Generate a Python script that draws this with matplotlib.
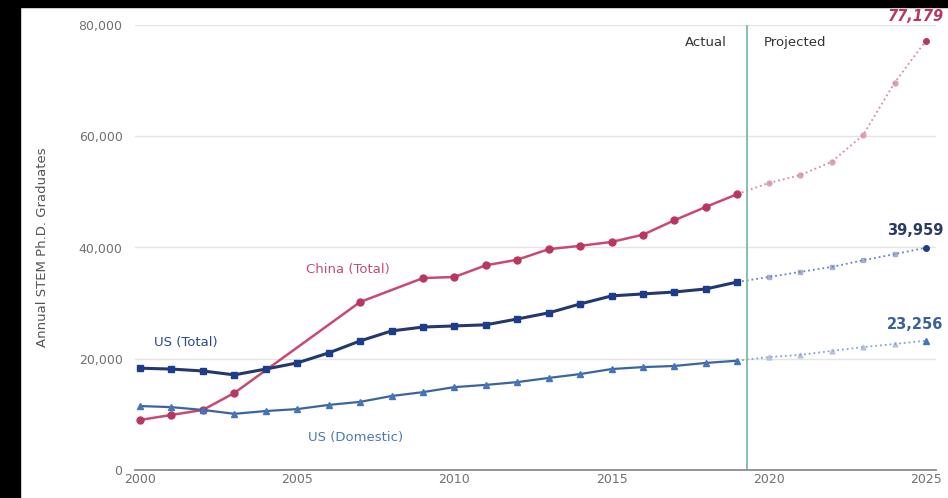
import matplotlib.pyplot as plt
from matplotlib.patches import Rectangle
from matplotlib.ticker import FuncFormatter

# actual values
us_years = list(range(2000, 2020))
us_total = [18300, 18150, 17800, 17100, 18150, 19250, 21050, 23200, 25000, 25700,
            25900, 26100, 27150, 28250, 29850, 31300, 31650, 32000, 32550, 33800]
us_domestic = [11500, 11300, 10800, 10100, 10600, 10950, 11700, 12250, 13300, 14000,
               14900, 15300, 15800, 16550, 17250, 18150, 18500, 18700, 19250, 19650]
china_years = [2000, 2001, 2002, 2003, 2007, 2009, 2010, 2011, 2012, 2013,
               2014, 2015, 2016, 2017, 2018, 2019]
china_total = [9000, 9900, 10800, 13850, 30200, 34500, 34700, 36800, 37800, 39700,
               40300, 41000, 42300, 44900, 47300, 49600]

# projections
proj_years = [2019, 2020, 2021, 2022, 2023, 2024, 2025]
china_proj = [49600, 51600, 53000, 55400, 60200, 69600, 77179]
us_total_proj = [33800, 34700, 35600, 36500, 37700, 38800, 39959]
us_dom_proj = [19650, 20300, 20700, 21400, 22100, 22650, 23256]

c_china = "#b9375f"
c_total = "#1d3d8c"
c_dom = "#4574b8"

fig = plt.figure(figsize=(9.48, 4.98), dpi=100)
fig.patches.append(Rectangle((0, 0), 20 / 948, 1, transform=fig.transFigure,
                             color="black", zorder=-1))
fig.patches.append(Rectangle((0, 1 - 7 / 498), 1, 7 / 498, transform=fig.transFigure,
                             color="black", zorder=-1))
ax = fig.add_axes([135 / 948, 28 / 498, 801 / 948, 445 / 498])

# actual series
ax.plot(china_years, china_total, color="#c94a70", lw=1.8, marker="o", ms=5,
        mfc=c_china, mec=c_china, zorder=3)
ax.plot(us_years, us_total, color="#24386e", lw=2.2, marker="s", ms=5,
        mfc=c_total, mec=c_total, zorder=3)
ax.plot(us_years, us_domestic, color="#3c64a0", lw=1.6, marker="^", ms=4.5,
        mfc=c_dom, mec=c_dom, zorder=3)

# projected series
ax.plot(proj_years[1:-1], china_proj[1:-1], ls="none", marker="o", ms=3.5, color="#dba3b5")
ax.plot(proj_years, china_proj, ls=":", lw=1.3, color="#d98aa3")
ax.plot(proj_years[-1:], china_proj[-1:], ls="none", marker="o", ms=4, color=c_china)
ax.plot(proj_years[1:-1], us_total_proj[1:-1], ls="none", marker="s", ms=3.5, color="#a3b0d4")
ax.plot(proj_years, us_total_proj, ls=":", lw=1.3, color="#6f80b8")
ax.plot(proj_years[-1:], us_total_proj[-1:], ls="none", marker="o", ms=4, color=c_total)
ax.plot(proj_years[1:-1], us_dom_proj[1:-1], ls="none", marker="^", ms=3.5, color="#b3c4e0")
ax.plot(proj_years, us_dom_proj, ls=":", lw=1.3, color="#8aa2cc")
ax.plot(proj_years[-1:], us_dom_proj[-1:], ls="none", marker="^", ms=4, color=c_dom)

# end labels
ax.annotate("77,179", (proj_years[-1], china_proj[-1]), xytext=(-10, 24),
            textcoords="offset pixels", ha="center", va="center", color=c_china,
            fontsize=10.5, fontweight="bold", style="italic", annotation_clip=False)
ax.annotate("39,959", (proj_years[-1], us_total_proj[-1]), xytext=(-11, 17),
            textcoords="offset pixels", ha="center", va="center", color="#2a3a66",
            fontsize=10.5, fontweight="bold", annotation_clip=False)
ax.annotate("23,256", (proj_years[-1], us_dom_proj[-1]), xytext=(-11, 16),
            textcoords="offset pixels", ha="center", va="center", color="#3a5f9e",
            fontsize=10.5, fontweight="bold", annotation_clip=False)

# series labels
ax.text(2006.6, 36000, "China (Total)", color="#c0506f", fontsize=9.5, ha="center", va="center")
ax.text(2001.45, 23000, "US (Total)", color="#2a4a90", fontsize=9.5, ha="center", va="center")
ax.text(2006.85, 5900, "US (Domestic)", color="#4c78b8", fontsize=9.5, ha="center", va="center")

# actual / projected divider
ax.axvline(2019.3, color="#7cbca4", lw=1.3, zorder=2)
ax.text(2018.65, 76900, "Actual", ha="right", va="center", fontsize=9.5, color="#333333")
ax.text(2019.85, 76900, "Projected", ha="left", va="center", fontsize=9.5, color="#333333")

ax.set_xlim(1999.84, 2025.32)
ax.set_ylim(0, 80000)
ax.set_xticks([2000, 2005, 2010, 2015, 2020, 2025])
ax.set_yticks([0, 20000, 40000, 60000, 80000])
ax.yaxis.set_major_formatter(FuncFormatter(lambda v, p: f"{int(v):,}"))
ax.grid(axis="y", color="#e4e4e4", lw=1)
ax.set_axisbelow(True)
for s in ["top", "right", "left"]:
    ax.spines[s].set_visible(False)
ax.spines["bottom"].set_color("#8c8c8c")
ax.spines["bottom"].set_linewidth(1.3)
ax.tick_params(axis="both", length=0, labelsize=9, labelcolor="#707070")
ax.tick_params(axis="y", pad=9)
ax.tick_params(axis="x", pad=2)
ax.set_ylabel("Annual STEM Ph.D. Graduates", fontsize=9.5, color="#555555", labelpad=21)

fig.savefig("out.png", dpi=100)
